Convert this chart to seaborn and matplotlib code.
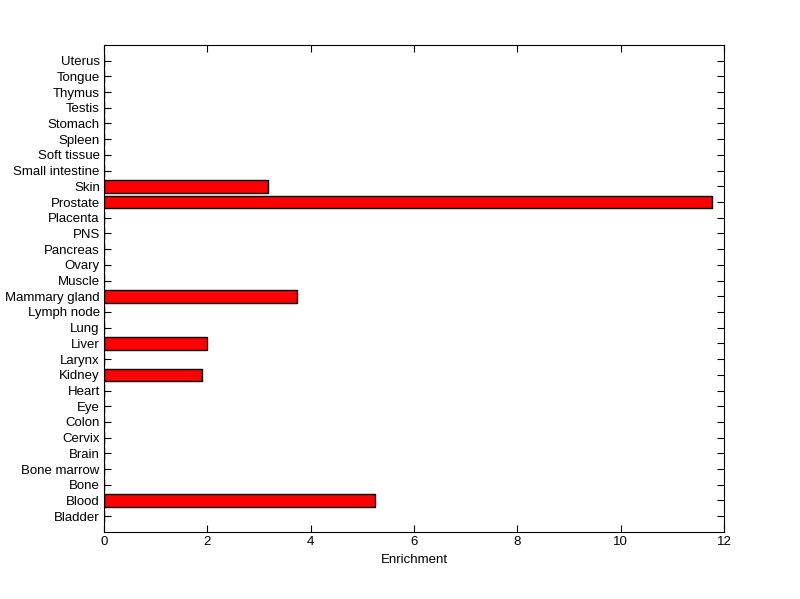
import matplotlib
matplotlib.use('Agg')
import matplotlib.pyplot as plt
import seaborn as sns
import pandas as pd

# tissues, bottom to top as shown
tissues = ['Bladder', 'Blood', 'Bone', 'Bone marrow', 'Brain', 'Cervix', 'Colon', 'Eye',
           'Heart', 'Kidney', 'Larynx', 'Liver', 'Lung', 'Lymph node', 'Mammary gland',
           'Muscle', 'Ovary', 'Pancreas', 'PNS', 'Placenta', 'Prostate', 'Skin',
           'Small intestine', 'Soft tissue', 'Spleen', 'Stomach', 'Testis', 'Thymus',
           'Tongue', 'Uterus']
enrichment = [0, 5.25, 0, 0, 0, 0, 0, 0,
              0, 1.89, 0, 2.0, 0, 0, 3.74,
              0, 0, 0, 0, 0, 11.77, 3.17,
              0, 0, 0, 0, 0, 0,
              0, 0]
xticks = [0, 2, 4, 6, 8, 10, 12]

df = pd.DataFrame({'Tissue': tissues, 'Enrichment': enrichment})

sns.set_style("white")
plt.rcParams['font.family'] = ['Liberation Sans', 'DejaVu Sans']
plt.rcParams['xtick.direction'] = 'in'
plt.rcParams['ytick.direction'] = 'in'

fig = plt.figure(figsize=(8, 5.99), dpi=100)
ax = fig.add_axes([0.13, 0.112, 0.775, 0.813])
sns.barplot(data=df, x='Enrichment', y='Tissue', order=tissues[::-1], orient='h',
            color='#ff0000', edgecolor='black', linewidth=1, width=0.8,
            saturation=1, errorbar=None, ax=ax)

ax.set_xlim(0, 12)
ax.set_ylim(len(tissues), -1)
ax.set_xticks(xticks)
ax.set_xlabel('Enrichment', fontsize=9.5, color='black')
ax.set_ylabel('')
ax.tick_params(axis='both', labelsize=9.5, length=5, width=0.8, color='black',
               labelcolor='black', top=True, right=True, bottom=True, left=True, pad=3)
for s in ax.spines.values():
    s.set_color('black')
    s.set_linewidth(0.8)

plt.savefig('out.png', dpi=100)
